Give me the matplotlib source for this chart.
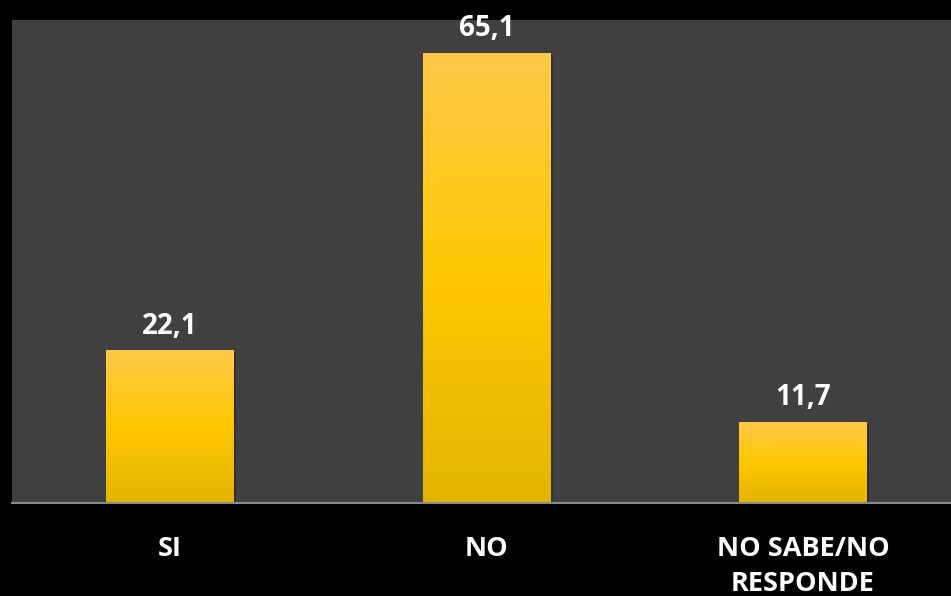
import matplotlib
matplotlib.use("Agg")
import matplotlib.pyplot as plt
import numpy as np
from matplotlib.colors import LinearSegmentedColormap
from matplotlib.patches import Rectangle

categories = ["SI", "NO", "NO SABE/NO\nRESPONDE"]
values = [22.1, 65.1, 11.7]
value_labels = ["22,1", "65,1", "11,7"]

W, H = 951, 596
fig = plt.figure(figsize=(W / 100, H / 100), dpi=100, facecolor="black")
left_px, right_px, top_px, bottom_px = 11.75, 961.25, 20, 503
ax = fig.add_axes([left_px / W, (H - bottom_px) / H, (right_px - left_px) / W, (bottom_px - top_px) / H])
ax.set_facecolor("#404040")

for s in ["top", "right", "left"]:
    ax.spines[s].set_visible(False)
ax.spines["bottom"].set_color("#8a8a8a")
ax.spines["bottom"].set_linewidth(1.5)
ax.tick_params(left=False, labelleft=False, bottom=False)

cmap = LinearSegmentedColormap.from_list("gold", [(0, "#E4B400"), (0.5, "#FFC700"), (1, "#FFC84A")])
grad = np.linspace(0, 1, 256).reshape(-1, 1)
bw = 0.404
font = "Open Sans"

for i, (v, lab) in enumerate(zip(values, value_labels)):
    sh = Rectangle((i - bw / 2 + 0.008, 0.0), bw, v - 0.3, facecolor="black", alpha=0.25, edgecolor="none", zorder=1)
    ax.add_patch(sh)
    bar = ax.bar(i, v, width=bw, color="none", zorder=2)[0]
    im = ax.imshow(grad, cmap=cmap, origin="lower", aspect="auto",
                   extent=[i - bw / 2, i + bw / 2, 0, v], zorder=2)
    im.set_clip_path(bar)
    ax.annotate(lab, (i, v), xytext=(0, 7), textcoords="offset points",
                ha="center", va="bottom", color="white", fontsize=20,
                fontweight="bold", family=font, annotation_clip=False)

ax.set_xlim(-0.5, 2.5)
ax.set_ylim(0, 69.9)
ax.set_xticks(range(len(categories)))
ax.set_xticklabels(categories, color="white", fontsize=19.5, fontweight="bold",
                   family=font, linespacing=1.45, va="top")
ax.tick_params(axis="x", pad=20)

fig.savefig("out.png", dpi=100, facecolor="black")
